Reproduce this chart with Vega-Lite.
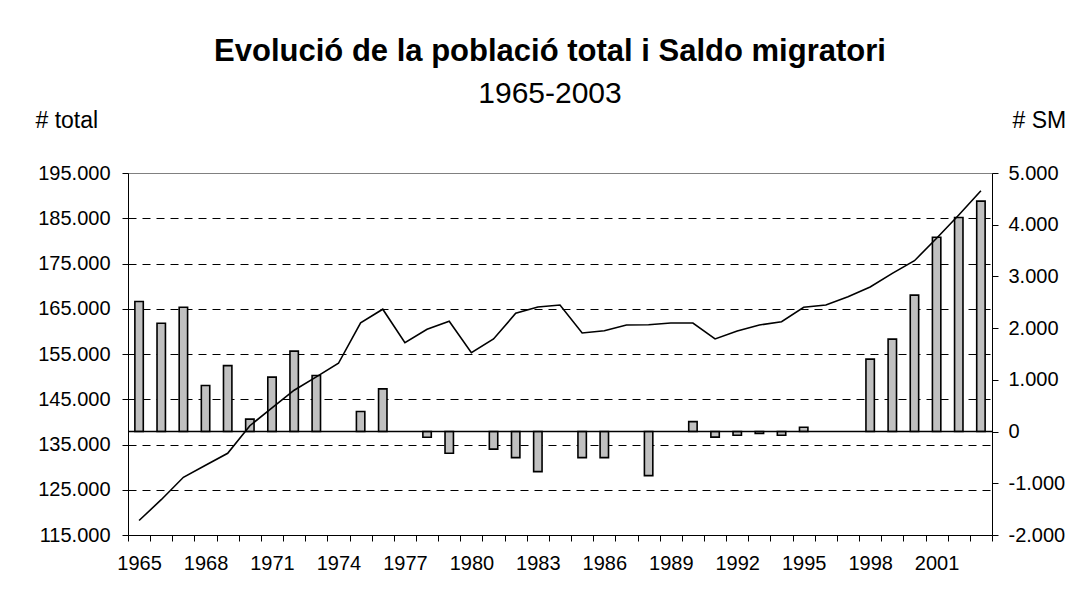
{
  "$schema": "https://vega.github.io/schema/vega-lite/v6.json",
  "width": 864,
  "height": 362,
  "autosize": "none",
  "padding": {"left": 128, "top": 173, "right": 90, "bottom": 68},
  "background": "white",
  "config": {
    "locale": {"number": {"decimal": ",", "thousands": ".", "grouping": [3], "currency": ["", " €"], "minus": "-"}},
    "view": {"stroke": "#808080", "strokeWidth": 1},
    "font": "Liberation Sans"
  },
  "title": {
    "text": "Evolució de la població total i Saldo migratori",
    "subtitle": "1965-2003",
    "anchor": "middle",
    "frame": "group",
    "font": "Liberation Sans",
    "fontSize": 31,
    "fontWeight": "bold",
    "color": "black",
    "subtitleFont": "Liberation Sans",
    "subtitleFontSize": 30,
    "subtitleColor": "black",
    "subtitlePadding": 11,
    "dx": -10,
    "dy": 5
  },
  "data": {
    "values": [
      {"year": 1965, "total": 118200, "sm": 2514},
      {"year": 1966, "total": 122800, "sm": 2096},
      {"year": 1967, "total": 127750, "sm": 2405},
      {"year": 1968, "total": 130400, "sm": 890},
      {"year": 1969, "total": 133050, "sm": 1276},
      {"year": 1970, "total": 139150, "sm": 240},
      {"year": 1971, "total": 143100, "sm": 1052},
      {"year": 1972, "total": 147000, "sm": 1555},
      {"year": 1973, "total": 149950, "sm": 1083},
      {"year": 1974, "total": 152950, "sm": null},
      {"year": 1975, "total": 161900, "sm": 387},
      {"year": 1976, "total": 164900, "sm": 826},
      {"year": 1977, "total": 157500, "sm": null},
      {"year": 1978, "total": 160460, "sm": -110},
      {"year": 1979, "total": 162230, "sm": -418},
      {"year": 1980, "total": 155290, "sm": null},
      {"year": 1981, "total": 158320, "sm": -340},
      {"year": 1982, "total": 163990, "sm": -503},
      {"year": 1983, "total": 165390, "sm": -774},
      {"year": 1984, "total": 165830, "sm": null},
      {"year": 1985, "total": 159640, "sm": -503},
      {"year": 1986, "total": 160150, "sm": -503},
      {"year": 1987, "total": 161410, "sm": null},
      {"year": 1988, "total": 161450, "sm": -851},
      {"year": 1989, "total": 161850, "sm": null},
      {"year": 1990, "total": 161850, "sm": 193},
      {"year": 1991, "total": 158320, "sm": -108},
      {"year": 1992, "total": 160080, "sm": -70},
      {"year": 1993, "total": 161410, "sm": -38},
      {"year": 1994, "total": 162140, "sm": -70},
      {"year": 1995, "total": 165320, "sm": 85},
      {"year": 1996, "total": 165830, "sm": null},
      {"year": 1997, "total": 167660, "sm": null},
      {"year": 1998, "total": 169810, "sm": 1400},
      {"year": 1999, "total": 172830, "sm": 1787},
      {"year": 2000, "total": 175620, "sm": 2638},
      {"year": 2001, "total": 180570, "sm": 3759},
      {"year": 2002, "total": 185720, "sm": 4139},
      {"year": 2003, "total": 191090, "sm": 4456}
    ]
  },
  "layer": [
    {
      "layer": [
        {
          "mark": {"type": "bar", "fill": "#C0C0C0", "stroke": "black", "strokeWidth": 1.6, "width": {"band": 0.38}},
          "encoding": {
            "x": {
              "field": "year",
              "type": "ordinal",
              "scale": {"paddingInner": 0, "paddingOuter": 0},
              "axis": {
                "title": null,
                "labelAngle": 0,
                "tickBand": "extent",
                "labelExpr": "(+datum.value - 1965) % 3 == 0 ? datum.label : ''",
                "labelFont": "Liberation Sans",
                "labelFontSize": 20,
                "labelColor": "black",
                "labelPadding": 12,
                "tickSize": 6,
                "tickColor": "black",
                "domainColor": "black",
                "labelOverlap": false,
                "labelFlush": false
              }
            },
            "y": {
              "field": "sm",
              "type": "quantitative",
              "scale": {"domain": [-2000, 5000], "nice": false, "zero": true},
              "axis": {
                "orient": "right",
                "values": [-2000, -1000, 0, 1000, 2000, 3000, 4000, 5000],
                "format": ",d",
                "grid": false,
                "title": "# SM",
                "titleAngle": 0,
                "titleAlign": "left",
                "titleBaseline": "alphabetic",
                "titleX": 20,
                "titleY": -46,
                "titleFont": "Liberation Sans",
                "titleFontSize": 23,
                "titleFontWeight": "normal",
                "titleColor": "black",
                "labelFont": "Liberation Sans",
                "labelFontSize": 20,
                "labelColor": "black",
                "labelPadding": 10,
                "tickSize": 6,
                "tickColor": "black",
                "domainColor": "black"
              }
            }
          }
        },
        {
          "data": {"values": [{"zero": 0}]},
          "mark": {"type": "rule", "color": "black", "strokeWidth": 1.5},
          "encoding": {
            "y": {"field": "zero", "type": "quantitative", "scale": {"domain": [-2000, 5000], "nice": false}}
          }
        }
      ]
    },
    {
      "mark": {"type": "line", "color": "black", "strokeWidth": 1.6},
      "encoding": {
        "x": {"field": "year", "type": "ordinal"},
        "y": {
          "field": "total",
          "type": "quantitative",
          "scale": {"domain": [115000, 195000], "nice": false, "zero": false},
          "axis": {
            "orient": "left",
            "values": [115000, 125000, 135000, 145000, 155000, 165000, 175000, 185000, 195000],
            "format": ",d",
            "grid": true,
            "gridColor": "black",
            "gridDash": [8, 6],
            "gridWidth": 1,
            "gridOpacity": {"condition": {"test": "datum.value === 195000 || datum.value === 115000", "value": 0}, "value": 1},
            "title": "# total",
            "titleAngle": 0,
            "titleAlign": "left",
            "titleBaseline": "alphabetic",
            "titleX": -93,
            "titleY": -46,
            "titleFont": "Liberation Sans",
            "titleFontSize": 23,
            "titleFontWeight": "normal",
            "titleColor": "black",
            "labelFont": "Liberation Sans",
            "labelFontSize": 20,
            "labelColor": "black",
            "labelPadding": 12,
            "tickSize": 6,
            "tickColor": "black",
            "domainColor": "black"
          }
        }
      }
    }
  ],
  "resolve": {"scale": {"y": "independent"}}
}
